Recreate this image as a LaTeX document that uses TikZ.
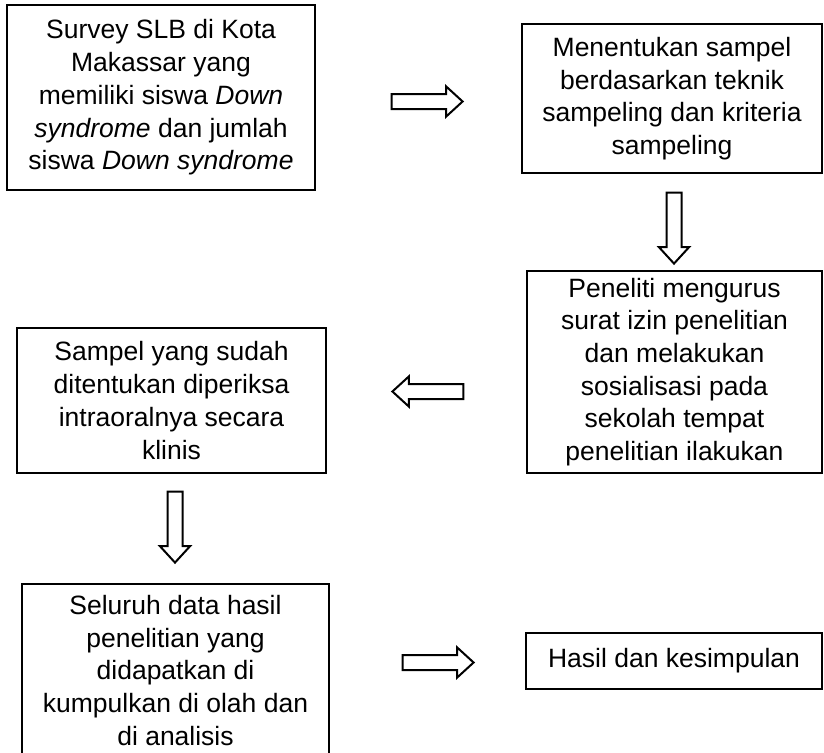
\documentclass[tikz,border=0pt]{standalone}
\usepackage{fontspec}
\setmainfont{Liberation Sans}
\usetikzlibrary{shapes.arrows}

\begin{document}
\begin{tikzpicture}[%
	x=1pt, y=-1pt,%
	kotak/.style ={draw=black, line width=1.1pt, fill=white, align=center, inner sep=2pt, font=\fontsize{26.5}{32.7}\selectfont},%
	panah/.style ={draw=black, line width=2pt, fill=white, single arrow, single arrow head extend=7.5pt, single arrow tip angle=85, inner sep=6.5pt, minimum height=71pt, minimum width=28pt},%
	]
	\useasboundingbox (0,0) rectangle (824,752);
	\clip (0,0) rectangle (824,752);
%%% boxes
	\node [kotak, minimum width=308pt, minimum height=185pt] (survey) at (161,97.5)
		{Survey SLB di Kota\\ Makassar yang\\ memiliki siswa \textit{Down}\\ \textit{syndrome} dan jumlah\\ siswa \textit{Down syndrome}};
	\node [kotak, minimum width=300pt, minimum height=149pt] (sampel) at (672,98.5)
		{Menentukan sampel\\ berdasarkan teknik\\ sampeling dan kriteria\\ sampeling};
	\node [kotak, minimum width=295pt, minimum height=202pt] (izin) at (674.5,372)
		{Peneliti mengurus\\ surat izin penelitian\\ dan melakukan\\ sosialisasi pada\\ sekolah tempat\\ penelitian ilakukan};
	\node [kotak, minimum width=309pt, minimum height=145pt] (periksa) at (171.5,400.5)
		{Sampel yang sudah\\ ditentukan diperiksa\\ intraoralnya secara\\ klinis};
	\node [kotak, minimum width=307pt, minimum height=173pt] (data) at (175.5,670.5)
		{Seluruh data hasil\\ penelitian yang\\ didapatkan di\\ kumpulkan di olah dan\\ di analisis};
	\node [kotak, minimum width=296pt, minimum height=56pt] (hasil) at (674,661)
		{Hasil dan kesimpulan};
%%% boxes
%%% arrows
	\foreach \nama/\x/\y/\arah in {panah1/423/101.5/0, panah2/674/224/270, panah3/432/391.5/180, panah4/175/523/270, panah5/434/662.5/0}
		{\node [panah, shape border rotate=\arah] (\nama) at (\x,\y) {};}
%%% arrows
\end{tikzpicture}
\end{document}
